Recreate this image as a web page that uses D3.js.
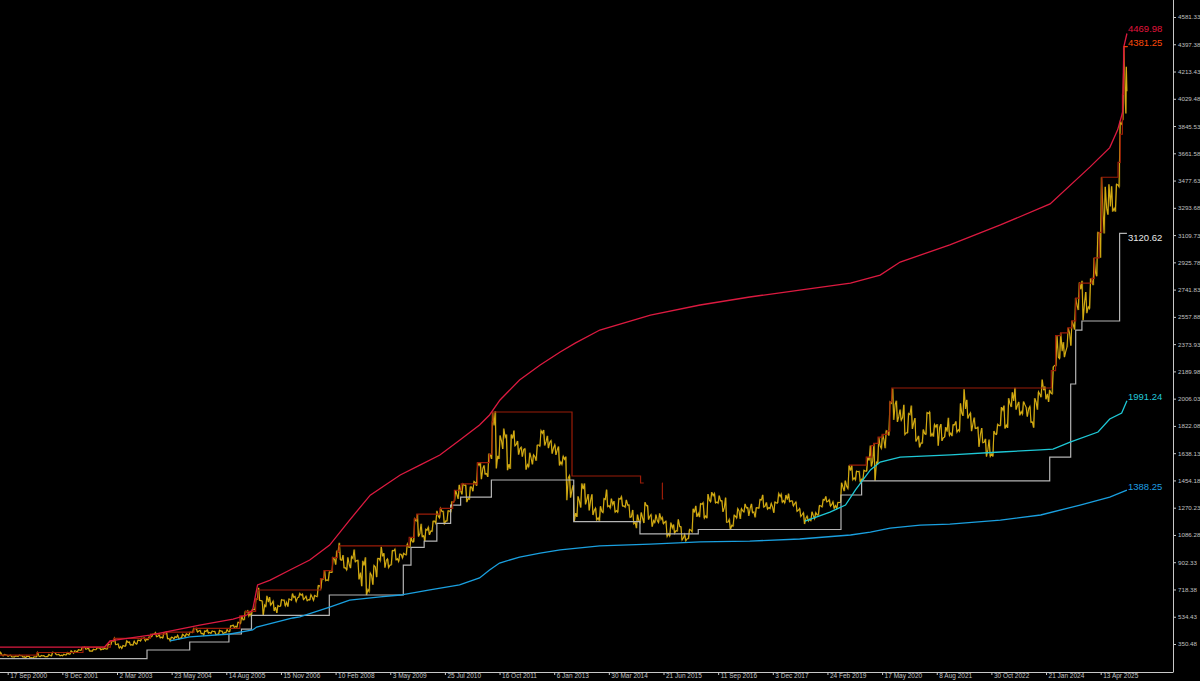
<!DOCTYPE html>
<html><head><meta charset="utf-8">
<script src="https://cdn.jsdelivr.net/npm/d3@7"></script>
<style>html,body{margin:0;padding:0;background:#000;overflow:hidden}</style>
</head><body><svg id="c" width="1200" height="681"></svg>
<script>
// ---------- DATA ----------
const xTickDates = ["2000-09-17","2001-12-09","2003-03-02","2004-05-23","2005-08-14","2006-11-15","2008-02-10","2009-05-03","2010-07-25","2011-10-16","2013-01-06","2014-03-30","2015-06-21","2016-09-11","2017-12-03","2019-02-24","2020-05-17","2021-08-08","2022-10-30","2024-01-21","2025-04-13"];
const xTickLabels = ["17 Sep 2000","9 Dec 2001","2 Mar 2003","23 May 2004","14 Aug 2005","15 Nov 2006","10 Feb 2008","3 May 2009","25 Jul 2010","16 Oct 2011","6 Jan 2013","30 Mar 2014","21 Jun 2015","11 Sep 2016","3 Dec 2017","24 Feb 2019","17 May 2020","8 Aug 2021","30 Oct 2022","21 Jan 2024","13 Apr 2025"];
const yTickLabels = ["350.48","534.43","718.38","902.33","1086.28","1270.23","1454.18","1638.13","1822.08","2006.03","2189.98","2373.93","2557.88","2741.83","2925.78","3109.73","3293.68","3477.63","3661.58","3845.53","4029.48","4213.43","4397.38","4581.33"];

const goldFirstMonth = "2000-07-01";
const goldLastDate = "2025-11-14";
const goldHigh = [
294,280,276,275,270,275,
272,268,268,264,293,273,272,280,295,292,280,282,
293,305,305,312,327,330,323,315,326,324,322,349,
372,388,352,340,372,365,370,377,390,392,399,417,
428,418,428,431,397,400,410,416,419,431,456,457,
443,439,447,438,436,443,437,448,474,478,497,541,
571,575,585,655,730,641,676,667,640,610,650,648,
655,691,672,692,688,673,683,678,745,791,845,838,
933,976,1033,950,935,940,988,915,912,935,830,881,
928,1006,963,925,981,990,958,963,1025,1070,1195,1227,
1162,1125,1139,1180,1249,1265,1246,1250,1310,1388,1424,1431,
1423,1411,1447,1575,1577,1556,1632,1912,1921,1758,1804,1764,
1764,1791,1720,1679,1668,1641,1627,1693,1790,1795,1755,1723,
1695,1683,1617,1615,1487,1423,1347,1434,1434,1362,1361,1267,
1280,1332,1392,1331,1315,1332,1345,1323,1290,1255,1224,1238,
1307,1285,1224,1224,1232,1205,1179,1170,1157,1191,1142,1089,
1123,1263,1283,1298,1304,1362,1375,1366,1352,1318,1338,1191,
1220,1264,1263,1296,1272,1296,1270,1326,1357,1306,1299,1309,
1366,1362,1356,1365,1317,1309,1265,1236,1214,1243,1237,1285,
1326,1347,1324,1310,1306,1439,1453,1555,1557,1517,1516,1523,
1611,1689,1704,1747,1765,1789,1984,2075,1992,1933,1965,1906,
1959,1875,1755,1798,1912,1916,1832,1834,1834,1814,1877,1831,
1853,1974,2070,1998,1910,1879,1814,1808,1735,1730,1787,1833,
1949,1959,2009,2049,2079,1984,1987,1949,1953,2009,2052,2135,
2088,2065,2222,2431,2450,2387,2483,2531,2685,2790,2801,2726,
2817,2956,3128,3500,3435,3452,3439,3453,3871,4381,4245];
const goldLow = [
275,270,267,263,262,266,
262,255,255,254,263,265,264,265,270,278,271,271,
277,282,288,298,308,315,302,301,312,311,315,316,
346,346,323,321,336,343,342,350,370,371,378,399,
399,392,391,386,371,383,384,389,399,409,427,431,
420,411,424,422,413,414,418,427,433,461,464,488,
514,538,539,582,644,543,603,612,573,560,605,608,
603,645,637,665,650,642,647,645,670,725,777,779,
834,886,919,864,850,862,905,786,740,681,705,750,
802,912,866,866,884,918,908,931,952,1003,1040,1075,
1074,1045,1087,1110,1165,1202,1157,1180,1240,1316,1330,1360,
1308,1327,1381,1418,1462,1496,1478,1599,1535,1599,1667,1523,
1532,1688,1628,1614,1527,1547,1563,1587,1685,1690,1672,1635,
1626,1555,1562,1321,1338,1180,1208,1271,1292,1251,1221,1187,
1182,1238,1277,1268,1240,1240,1281,1273,1205,1161,1132,1170,
1167,1190,1142,1170,1170,1162,1077,1080,1098,1112,1052,1046,
1061,1108,1208,1206,1200,1199,1310,1302,1301,1242,1171,1123,
1146,1200,1194,1241,1214,1236,1205,1267,1274,1260,1264,1236,
1302,1307,1303,1310,1282,1245,1211,1160,1180,1183,1196,1221,
1276,1309,1281,1266,1266,1306,1382,1400,1459,1458,1445,1459,
1517,1548,1451,1568,1670,1671,1757,1863,1849,1860,1764,1775,
1802,1717,1677,1705,1765,1750,1750,1688,1721,1746,1758,1753,
1780,1786,1890,1872,1787,1805,1681,1709,1615,1617,1616,1765,
1824,1804,1809,1950,1932,1893,1902,1885,1846,1810,1931,2016,
2002,1984,2038,2228,2277,2286,2353,2364,2471,2604,2536,2583,
2614,2772,2832,2957,3121,3247,3268,3268,3436,3887,3930];
const goldClose = [
277,277,273,264,269,272,
265,267,258,264,267,270,266,273,293,279,275,277,
282,297,302,309,326,318,304,312,324,317,317,347,
368,347,334,336,361,346,354,375,388,384,398,416,
403,396,427,388,394,395,391,408,415,429,453,438,
422,435,428,435,417,437,429,433,473,470,495,513,
568,556,582,654,643,613,633,626,599,604,646,632,
650,665,662,679,659,650,665,673,743,789,783,834,
923,971,916,864,885,928,913,833,880,718,814,870,
927,942,916,883,979,926,955,955,1004,1040,1182,1096,
1081,1118,1113,1180,1213,1244,1181,1248,1307,1357,1386,1421,
1332,1410,1439,1556,1536,1500,1628,1826,1620,1722,1746,1565,
1737,1697,1669,1664,1561,1604,1614,1693,1773,1719,1712,1676,
1663,1579,1597,1472,1393,1234,1313,1396,1327,1323,1253,1202,
1244,1326,1284,1291,1250,1327,1282,1287,1209,1172,1182,1199,
1283,1213,1183,1183,1190,1172,1095,1133,1115,1142,1065,1061,
1118,1238,1233,1293,1215,1321,1351,1309,1316,1272,1173,1152,
1211,1249,1249,1269,1268,1242,1269,1322,1280,1271,1275,1303,
1345,1318,1325,1316,1299,1253,1224,1201,1192,1215,1222,1282,
1321,1313,1292,1284,1305,1409,1413,1520,1472,1513,1464,1517,
1589,1585,1577,1686,1730,1781,1975,1968,1886,1879,1776,1898,
1847,1734,1707,1769,1906,1770,1814,1813,1742,1783,1774,1829,
1796,1909,1937,1896,1837,1807,1766,1711,1660,1633,1768,1824,
1928,1827,1969,1990,1962,1919,1965,1940,1849,1983,2036,2063,
2039,2044,2230,2286,2327,2326,2447,2503,2634,2744,2650,2625,
2798,2858,3124,3288,3289,3303,3290,3448,3858,4000,4080];

// upper band curve (crimson)
const upperCurve = [["2000-07-01",330],["2002-11-20",330],["2003-01-04",371],["2003-11-27",411],["2005-01-08",478],["2005-10-10",519],["2006-02-02",546],["2006-03-23",580],["2006-04-08",647],["2006-05-03",749],["2006-08-17",782],["2007-01-28",850],["2007-07-11",917],["2007-12-23",1018],["2008-06-04",1187],["2008-11-20",1355],["2009-03-24",1423],["2009-07-24",1491],["2010-01-01",1558],["2010-06-14",1626],["2010-11-25",1727],["2011-05-05",1828],["2011-07-26",1896],["2011-10-20",1997],["2012-03-28",2132],["2012-09-13",2233],["2013-02-24",2321],["2013-06-27",2381],["2014-01-15",2469],["2015-03-06",2570],["2016-04-16",2638],["2017-05-28",2692],["2018-07-12",2739],["2019-09-01",2786],["2020-05-01",2840],["2020-10-12",2928],["2021-11-23",3043],["2023-01-12",3178],["2024-02-23",3320],["2025-01-16",3570],["2025-06-26",3700],["2025-08-30",3820],["2025-10-10",3940],["2025-10-20",4381],["2025-11-14",4469.98]];
// channel high (dark red step); null = no line
const channelHigh = [["2000-07-01",275],["2001-05-14",293],["2002-05-27",330],["2003-01-06",372],["2003-02-03",388],["2003-12-01",417],["2004-04-01",431],["2004-11-22",456],["2005-12-05",541],["2006-01-23",571],["2006-04-17",655],["2006-05-08",715],["2007-10-08",791],["2007-11-05",845],["2008-01-14",933],["2008-02-25",976],["2008-03-10",1012],["2009-10-05",1070],["2009-11-16",1195],["2009-12-07",1227],["2010-06-14",1265],["2010-09-27",1310],["2010-10-11",1388],["2010-12-06",1431],["2011-04-18",1575],["2011-07-25",1632],["2011-08-15",1850],["2011-08-22",1916],["2013-06-01",1484],["2014-12-15",1437],["2015-01-10",1437],["2015-01-10",null],["2015-06-10",1437],["2015-06-12",1330],["2015-06-20",1330],["2015-06-20",null],["2019-08-20",1557],["2020-01-08",1611],["2020-02-20",1689],["2020-03-09",1704],["2020-04-14",1747],["2020-05-18",1765],["2020-06-30",1789],["2020-07-20",1984],["2020-08-05",2078],["2024-03-04",2195],["2024-04-08",2431],["2024-05-20",2450],["2024-07-17",2483],["2024-08-20",2531],["2024-09-20",2685],["2024-10-21",2786],["2025-01-30",2817],["2025-02-20",2956],["2025-03-31",3128],["2025-04-22",3500],["2025-09-02",3600],["2025-09-20",3790],["2025-10-08",4059],["2025-10-20",4381],["2025-11-14",4381]];
// channel low (gray step)
const channelLow = [["2000-07-01",252],["2003-11-03",310],["2004-10-18",364],["2005-09-05",418],["2005-12-19",451],["2006-03-13",543],["2007-12-20",681],["2009-08-18",883],["2009-10-20",1003],["2010-02-05",1045],["2010-05-20",1165],["2010-09-10",1288],["2010-12-01",1342],["2011-08-10",1457],["2013-06-15",1176],["2014-12-10",1093],["2016-04-01",1123],["2019-06-15",1356],["2019-12-01",1451],["2024-02-20",1612],["2024-08-10",2105],["2024-09-20",2469],["2024-11-10",2530],["2025-09-15",3120.62],["2025-11-14",3120.62]];
// anchored curves
const cyanCurve = [["2018-08-24",1180],["2019-03-17",1241],["2019-07-22",1288],["2019-10-12",1390],["2020-02-11",1525],["2020-05-01",1578],["2020-10-12",1612],["2021-12-01",1626],["2023-01-12",1646],["2023-12-06",1660],["2024-03-18",1666],["2024-08-05",1713],["2025-03-22",1781],["2025-06-26",1869],["2025-10-02",1909],["2025-11-14",1991.24]];
const blueCurve = [["2004-05-10",371],["2004-10-18",398],["2005-09-16",418],["2006-03-23",445],["2006-04-25",465],["2007-02-21",526],["2007-04-20",533],["2007-12-23",600],["2008-06-04",647],["2009-02-10",668],["2009-07-24",681],["2010-03-24",715],["2010-11-22",749],["2011-05-05",796],["2011-07-26",850],["2011-10-16",897],["2012-03-28",937],["2012-09-13",964],["2013-02-24",985],["2014-01-15",1012],["2015-03-06",1025],["2016-04-16",1039],["2017-05-28",1045],["2018-07-12",1059],["2019-09-01",1086],["2020-02-11",1106],["2020-07-22",1133],["2021-03-25",1153],["2021-11-23",1160],["2023-01-12",1187],["2023-12-08",1221],["2024-10-26",1288],["2025-06-26",1342],["2025-11-14",1388.25]];

const endLabels = [
  {text:"4469.98", value:4469.98, color:"#e0143c"},
  {text:"4381.25", value:4381.25, color:"#ff4a0a"},
  {text:"3120.62", value:3120.62, color:"#e8e8e8"},
  {text:"1991.24", value:1991.24, color:"#22c8d8"},
  {text:"1388.25", value:1388.25, color:"#1e9ee0"}
];
// label vertical nudges (px), layout only
const endLabelShift = {"4469.98":-4.5,"4381.25":-3.5,"3120.62":4.5,"1991.24":-4,"1388.25":-4};

// ---------- CHART ----------
const W=1200,H=681, plotR=1173, plotB=672;
const parse = d3.utcParse("%Y-%m-%d");
const svg = d3.select("#c");
svg.append("rect").attr("width",W).attr("height",H).attr("fill","#000");

const tDates = xTickDates.map(parse);
const x = d3.scaleUtc().domain(tDates).range(tDates.map((d,i)=>7.7+i*54.65));
const y = d3.scaleLinear().domain([350.48,4581.33]).range([644,17]);

const defs = svg.append("defs");
defs.append("clipPath").attr("id","clip").append("rect").attr("x",0).attr("y",0).attr("width",plotR).attr("height",plotB);
const g = svg.append("g").attr("clip-path","url(#clip)");

// price zigzag built from monthly high/low/close
const m0 = parse(goldFirstMonth), endD = parse(goldLastDate);
const pts=[]; let prev=goldClose[0];
const bars=[];
for(let i=0;i<goldClose.length;i++){
  const a=d3.utcMonth.offset(m0,i); let b=d3.utcMonth.offset(m0,i+1); if(b>endD) b=endD;
  const sp=b-a, up=goldClose[i]>=prev;
  const f = up?goldLow[i]:goldHigh[i], s= up?goldHigh[i]:goldLow[i];
  if(i===0) pts.push([a,prev]);
  pts.push([new Date(+a+sp*0.3),f],[new Date(+a+sp*0.65),s],[b,goldClose[i]]);
  bars.push([new Date(+a+sp*0.5),goldLow[i],goldHigh[i]]);
  prev=goldClose[i];
}
g.selectAll("line.bar").data(bars).join("line").attr("class","bar")
  .attr("x1",d=>x(d[0])).attr("x2",d=>x(d[0])).attr("y1",d=>y(d[1])).attr("y2",d=>y(d[2]))
  .attr("stroke","#a88a0c").attr("stroke-width",1).attr("opacity",0.6);
g.append("path").datum(pts).attr("fill","none").attr("stroke","#d2aa12").attr("stroke-width",1.15)
  .attr("d",d3.line().x(d=>x(d[0])).y(d=>y(d[1])));

const toPts = arr=>arr.map(d=>[parse(d[0]),d[1]]);
const lineLin = d3.line().x(d=>x(d[0])).y(d=>y(d[1]));
const lineStep = d3.line().defined(d=>d[1]!=null).x(d=>x(d[0])).y(d=>y(d[1])).curve(d3.curveStepAfter);

g.append("path").datum(toPts(channelLow)).attr("fill","none").attr("stroke","#b4b4b4").attr("stroke-width",1.2).attr("d",lineStep);
g.append("path").datum(toPts(channelHigh)).attr("fill","none").attr("stroke","#9a1c08").attr("stroke-width",1.2).attr("d",lineStep);
g.append("path").datum(toPts(blueCurve)).attr("fill","none").attr("stroke","#1aa0e0").attr("stroke-width",1.3).attr("d",lineLin);
g.append("path").datum(toPts(cyanCurve)).attr("fill","none").attr("stroke","#1ec8d6").attr("stroke-width",1.3).attr("d",lineLin);
g.append("path").datum(toPts(upperCurve)).attr("fill","none").attr("stroke","#dc1a40").attr("stroke-width",1.3).attr("d",lineLin);

// small price marker at the high
g.append("line").attr("x1",x(endD)-3).attr("x2",x(endD)+1).attr("y1",y(4381.25)).attr("y2",y(4381.25))
  .attr("stroke","#ff4a0a").attr("stroke-width",1);

// end labels
svg.selectAll("text.endl").data(endLabels).join("text").attr("class","endl")
  .attr("x",1128).attr("y",d=>y(d.value)+endLabelShift[d.text]).attr("dy","0.35em")
  .attr("fill",d=>d.color).attr("font-family","Liberation Sans, Arial, sans-serif").attr("font-size",9.5)
  .text(d=>d.text);

// axes
const axisCol="#c8c8c8";
svg.append("line").attr("x1",plotR+0.5).attr("x2",plotR+0.5).attr("y1",0).attr("y2",plotB).attr("stroke",axisCol);
svg.append("line").attr("x1",0).attr("x2",plotR+0.5).attr("y1",plotB+0.5).attr("y2",plotB+0.5).attr("stroke",axisCol);
const yAxis = d3.axisRight(y).tickValues(yTickLabels.map(Number)).tickFormat((d,i)=>yTickLabels[i]).tickSize(3).tickPadding(2);
const ya = svg.append("g").attr("transform",`translate(${plotR},0)`).call(yAxis);
ya.select(".domain").remove();
ya.selectAll("line").attr("stroke",axisCol);
ya.selectAll("text").attr("fill","#c0c0c0").attr("font-family","Liberation Sans, Arial, sans-serif").attr("font-size",6.2);
const xAxis = d3.axisBottom(x).tickValues(tDates).tickFormat((d,i)=>xTickLabels[i]).tickSize(3).tickPadding(2);
const xa = svg.append("g").attr("transform",`translate(0,${plotB})`).call(xAxis);
xa.select(".domain").remove();
xa.selectAll("line").attr("stroke",axisCol);
xa.selectAll("text").attr("fill","#c0c0c0").attr("font-family","Liberation Sans, Arial, sans-serif").attr("font-size",6.5)
  .attr("text-anchor","start").attr("dx",2).attr("dy","0.2em");
</script></body></html>
